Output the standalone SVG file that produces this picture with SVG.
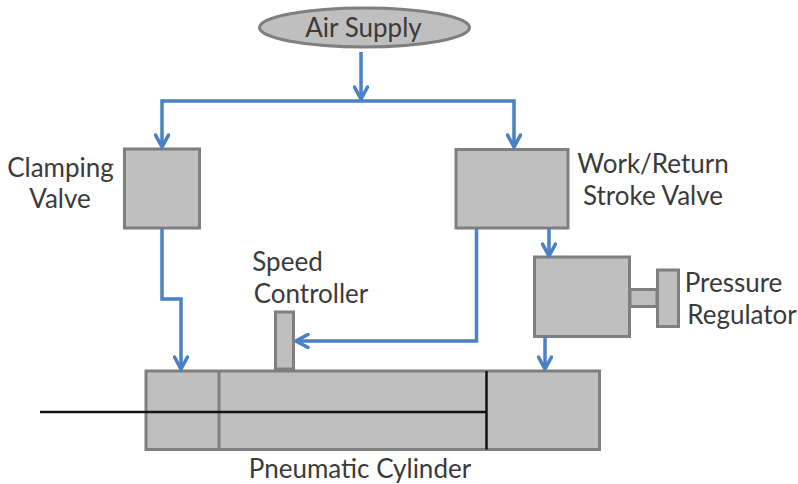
<svg xmlns="http://www.w3.org/2000/svg" width="798" height="484" viewBox="0 0 798 484">
<style>
.n{fill:#bfbfbf;stroke:#7f7f7f;stroke-width:3}
.c{fill:none;stroke:#4a80c4;stroke-width:3.500;stroke-linejoin:miter}
.k{fill:none;stroke:#111;stroke-width:2.500}
.d{fill:none;stroke:#7f7f7f;stroke-width:3}
text{font-family:"Lato","Carlito","Liberation Sans",sans-serif;font-size:26px;fill:#3a3a3a;text-anchor:middle}
</style>
<defs>
<marker id="a" viewBox="0 0 16 16" markerWidth="16" markerHeight="16" refX="14" refY="8" orient="auto" markerUnits="userSpaceOnUse">
<path d="M2 1.500L14 8L2 14.500" fill="none" stroke="#4a80c4" stroke-width="3.500" stroke-linecap="round"/>
</marker>
</defs>
<g id="air-supply"><ellipse class="n" cx="364.500" cy="27.500" rx="105" ry="19.500"/><text x="363.500" y="37">Air Supply</text></g>
<g id="clamping-valve"><rect class="n" x="124.500" y="149" width="75" height="79"/><text x="60.500" y="177">Clamping</text><text x="60" y="208">Valve</text></g>
<g id="work-return-valve"><rect class="n" x="456" y="149.500" width="112" height="78.500"/><text x="653" y="173">Work/Return</text><text x="653" y="205">Stroke Valve</text></g>
<g id="pressure-regulator"><rect class="n" x="630" y="289.500" width="27" height="17"/><rect class="n" x="534.500" y="257" width="95" height="79.500"/><rect class="n" x="657.500" y="270" width="21" height="56.500"/><text x="733.500" y="292">Pressure</text><text x="742" y="324">Regulator</text></g>
<g id="speed-controller"><rect class="n" x="275.500" y="312" width="18" height="57"/><text x="287.500" y="271">Speed</text><text x="311" y="303">Controller</text></g>
<g id="pneumatic-cylinder"><rect class="n" x="146" y="371" width="453.500" height="78.500"/><path class="d" d="M219 371V449.500"/><path class="k" d="M486.500 371V449.500"/><text x="360" y="478">Pneumatic Cylinder</text></g>
<g id="connectors">
<path class="c" marker-end="url(#a)" d="M361 52V99"/>
<path class="c" marker-end="url(#a)" d="M162 101H514V147"/>
<path class="c" marker-end="url(#a)" d="M162 99.250V147"/>
<path class="c" marker-end="url(#a)" d="M162 228V299H181V369"/>
<path class="c" marker-end="url(#a)" d="M476.500 228V341H296"/>
<path class="c" marker-end="url(#a)" d="M549 228V256"/>
<path class="c" marker-end="url(#a)" d="M545 337V369"/>
<path class="k" d="M40 412H486"/>
</g>
</svg>
